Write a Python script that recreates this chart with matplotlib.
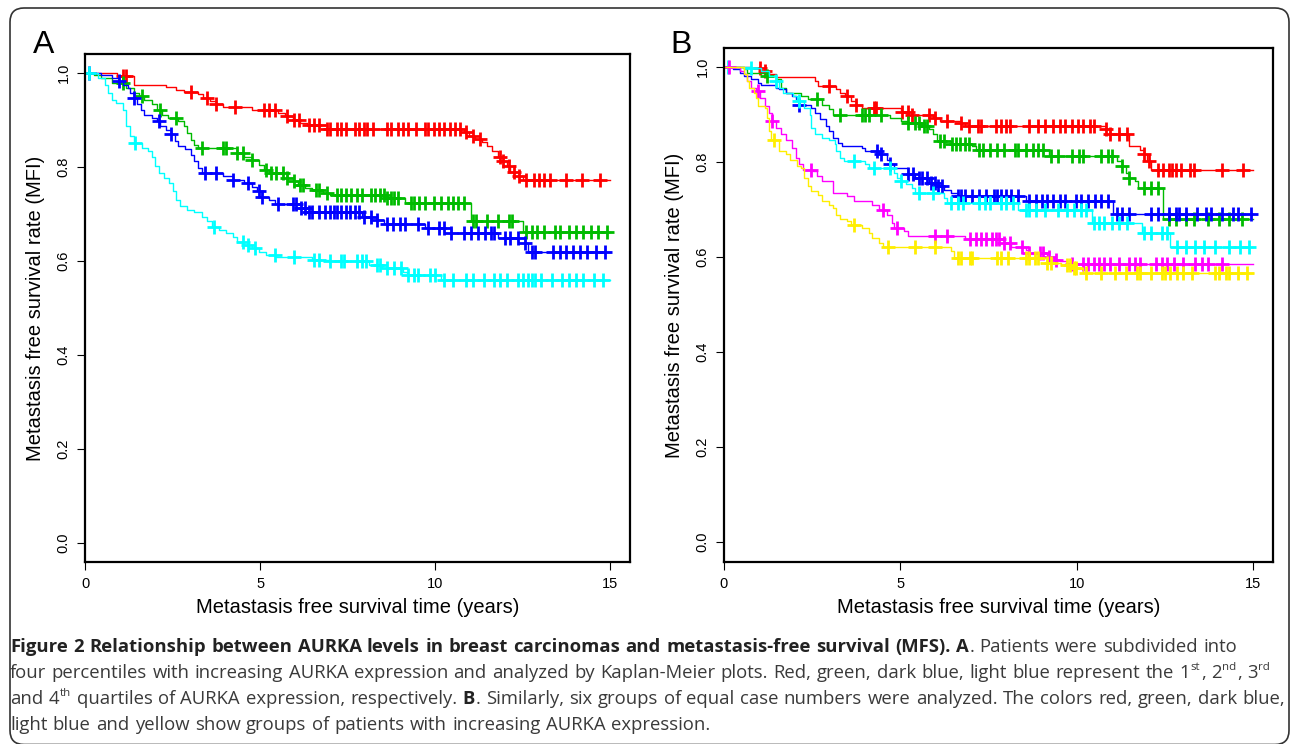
import numpy as np
import matplotlib
matplotlib.use("Agg")
import matplotlib.pyplot as plt
from matplotlib.patches import FancyBboxPatch

plt.rcParams['font.family'] = ['Liberation Sans', 'DejaVu Sans']

# ---- panel A: quartiles (step times / survival, censor times) ----
a_red_t = [0, 0.9, 1.39, 2.31, 2.61, 2.82, 3.22, 3.38, 3.58, 3.73, 3.94, 4.76, 5.52, 5.72, 5.93,
           6.13, 6.34, 6.9, 10.83, 10.98, 11.13, 11.34, 11.49, 11.64, 11.8, 11.95, 12.05, 12.15, 12.4, 12.5]
a_red_s = [1.0, 0.993, 0.975, 0.970, 0.964, 0.960, 0.954, 0.947, 0.940, 0.933, 0.927, 0.920, 0.915, 0.908, 0.900,
           0.893, 0.888, 0.881, 0.874, 0.866, 0.860, 0.852, 0.844, 0.833, 0.822, 0.812, 0.801, 0.790, 0.781, 0.773]
a_red_c = [1.08, 1.18, 3.02, 3.48, 3.73, 4.28, 5.11, 5.27, 5.42, 5.78, 5.96, 6.10, 6.39, 6.54, 6.69, 6.90,
           7.00, 7.20, 7.31, 7.46, 7.71, 7.82, 7.97, 8.07, 8.22, 8.63, 8.73, 8.94, 9.09, 9.24, 9.45, 9.70,
           9.81, 9.96, 10.11, 10.27, 10.42, 10.57, 10.72, 10.88, 11.08, 11.29, 11.85, 11.95, 12.10, 12.26,
           12.41, 12.61, 12.82, 12.97, 13.12, 13.28, 13.73, 14.19, 14.70]

a_green_t = [0, 0.27, 0.47, 0.78, 1.18, 1.39, 1.54, 1.69, 1.9, 2.05, 2.2, 2.36, 2.66, 2.82, 2.92, 3.02, 3.12,
             3.22, 4.35, 4.55, 4.76, 4.96, 5.11, 5.27, 5.78, 5.93, 6.08, 6.29, 6.49, 6.8, 7.0, 8.58, 9.14,
             11.03, 12.51]
a_green_s = [1.0, 0.996, 0.989, 0.979, 0.968, 0.957, 0.950, 0.943, 0.933, 0.922, 0.911, 0.904, 0.897, 0.886,
             0.872, 0.858, 0.847, 0.840, 0.829, 0.822, 0.815, 0.805, 0.794, 0.787, 0.776, 0.769, 0.762, 0.756,
             0.750, 0.744, 0.741, 0.734, 0.723, 0.685, 0.661]
a_green_c = [1.08, 1.64, 2.15, 2.61, 3.33, 3.94, 4.04, 4.35, 4.50, 4.76, 5.16, 5.32, 5.47, 5.67, 5.78, 5.98,
             6.13, 6.23, 6.59, 6.69, 6.90, 7.20, 7.31, 7.46, 7.61, 7.77, 7.92, 8.17, 8.28, 8.43, 8.53, 8.63,
             8.73, 8.84, 8.94, 9.30, 9.40, 9.55, 9.70, 9.96, 10.16, 10.37, 10.52, 10.67, 10.83, 11.08, 11.18,
             11.49, 11.80, 12.10, 12.20, 12.61, 12.77, 12.92, 13.12, 13.43, 13.58, 13.84, 14.04, 14.24,
             14.45, 14.65, 14.91]

a_blue_t = [0, 0.47, 0.78, 0.98, 1.08, 1.23, 1.29, 1.39, 1.49, 1.59, 1.69, 1.9, 2.05, 2.15, 2.31, 2.46, 2.56,
            2.66, 2.87, 3.02, 3.12, 3.22, 3.33, 3.94, 4.24, 4.55, 4.76, 4.91, 5.06, 5.27, 5.42, 6.18, 6.39,
            7.92, 8.33, 8.53, 9.70, 10.47, 11.8, 12.56, 12.66]
a_blue_s = [1.0, 0.996, 0.989, 0.982, 0.975, 0.968, 0.957, 0.947, 0.933, 0.922, 0.911, 0.904, 0.897, 0.886,
            0.879, 0.869, 0.854, 0.844, 0.837, 0.826, 0.812, 0.797, 0.787, 0.780, 0.773, 0.766, 0.758, 0.748,
            0.737, 0.730, 0.721, 0.712, 0.705, 0.694, 0.687, 0.679, 0.670, 0.659, 0.648, 0.639, 0.620]
a_blue_c = [0.11, 0.98, 1.39, 2.10, 2.46, 3.43, 3.73, 4.24, 4.65, 4.96, 5.06, 5.52, 5.93, 6.03, 6.18, 6.29,
            6.39, 6.49, 6.69, 6.85, 7.00, 7.10, 7.20, 7.31, 7.46, 7.56, 7.71, 7.82, 7.97, 8.17, 8.33, 8.63,
            8.79, 8.99, 9.14, 9.50, 9.81, 10.11, 10.27, 10.47, 10.83, 11.03, 11.23, 11.44, 11.59, 11.69,
            12.0, 12.15, 12.36, 12.56, 12.77, 12.87, 13.38, 13.58, 13.73, 13.94, 14.14, 14.35, 14.60, 14.86]

a_cyan_t = [0, 0.37, 0.57, 0.67, 0.78, 0.88, 1.08, 1.18, 1.29, 1.39, 1.64, 1.8, 1.9, 2.0, 2.1, 2.26, 2.41,
            2.51, 2.61, 2.71, 2.92, 3.12, 3.33, 3.48, 3.63, 3.84, 4.04, 4.24, 4.35, 4.55, 4.76, 4.96, 5.16,
            5.47, 6.49, 7.0, 8.12, 8.48, 9.09, 9.19, 10.16]
a_cyan_s = [1.0, 0.989, 0.975, 0.957, 0.943, 0.936, 0.922, 0.886, 0.865, 0.851, 0.840, 0.833, 0.822, 0.801,
            0.787, 0.776, 0.766, 0.748, 0.730, 0.716, 0.709, 0.705, 0.694, 0.684, 0.673, 0.666, 0.659, 0.652,
            0.641, 0.634, 0.627, 0.620, 0.613, 0.609, 0.602, 0.599, 0.592, 0.584, 0.577, 0.570, 0.560]
a_cyan_c = [0.11, 1.44, 3.68, 4.50, 4.65, 4.86, 5.42, 5.98, 6.54, 6.69, 7.00, 7.31, 7.41, 7.77, 7.92, 8.02,
            8.33, 8.43, 8.63, 8.84, 9.04, 9.24, 9.40, 9.50, 9.86, 10.01, 10.27, 10.52, 10.88, 11.08, 11.39,
            11.69, 11.85, 12.05, 12.36, 12.51, 12.66, 12.77, 12.87, 13.02, 13.33, 13.63, 13.84, 14.04,
            14.24, 14.55, 14.81]

# ---- panel B: six groups ----
b_red_t = [0, 0.76, 1.06, 1.27, 1.47, 2.58, 2.68, 3.19, 3.29, 3.44, 3.59, 3.75, 3.9, 5.01, 5.32, 5.92, 6.13,
           6.73, 6.84, 10.84, 10.94, 11.49, 11.8, 11.9, 12.0, 12.1]
b_red_s = [1.0, 0.997, 0.992, 0.986, 0.978, 0.970, 0.960, 0.953, 0.946, 0.939, 0.928, 0.921, 0.913, 0.906,
           0.900, 0.893, 0.886, 0.883, 0.876, 0.869, 0.858, 0.833, 0.826, 0.816, 0.802, 0.784]
b_red_c = [1.01, 1.16, 2.99, 3.49, 3.75, 4.25, 4.30, 5.06, 5.22, 5.32, 5.82, 5.97, 6.33, 6.73, 6.94, 7.19,
           7.29, 7.70, 7.85, 8.00, 8.10, 8.66, 8.91, 9.11, 9.32, 9.52, 9.67, 9.87, 10.03, 10.18, 10.38,
           10.48, 10.84, 10.94, 11.19, 11.44, 11.90, 12.05, 12.30, 12.46, 12.61, 12.71, 12.81, 12.96,
           13.22, 13.32, 14.13, 14.73]

b_green_t = [0, 0.56, 0.66, 1.16, 1.47, 1.62, 1.77, 2.18, 2.38, 2.78, 2.99, 3.09, 4.71, 5.01, 5.22, 5.62,
             5.82, 5.92, 6.03, 6.43, 7.04, 7.14, 9.22, 11.14, 11.29, 11.39, 11.49, 11.65, 11.75, 12.46]
b_green_s = [1.0, 0.995, 0.988, 0.981, 0.974, 0.956, 0.946, 0.939, 0.932, 0.921, 0.911, 0.900, 0.893, 0.886,
             0.883, 0.876, 0.869, 0.858, 0.844, 0.838, 0.833, 0.826, 0.812, 0.802, 0.791, 0.777, 0.767,
             0.760, 0.746, 0.679]
b_green_c = [1.22, 2.63, 3.29, 3.90, 4.00, 4.10, 4.46, 5.22, 5.42, 5.52, 5.67, 5.77, 6.13, 6.23, 6.48, 6.58,
             6.68, 6.84, 6.94, 7.24, 7.34, 7.54, 7.75, 7.95, 8.25, 8.35, 8.56, 8.76, 8.91, 9.06, 9.27, 9.47,
             9.87, 10.08, 10.18, 10.68, 10.89, 10.99, 11.29, 11.49, 11.90, 12.10, 12.30, 12.61, 12.81,
             13.11, 13.32, 13.72, 14.03, 14.33, 14.68]

b_blue_t = [0, 0.25, 0.46, 0.56, 0.76, 0.96, 1.06, 1.47, 1.57, 1.77, 1.92, 2.03, 2.13, 2.48, 2.58, 2.73,
            2.89, 2.99, 3.09, 3.24, 3.34, 3.9, 4.0, 4.41, 4.61, 4.71, 4.81, 5.22, 5.42, 5.82, 6.03, 6.23,
            6.43, 6.63, 8.56, 11.04]
b_blue_s = [1.0, 0.995, 0.988, 0.981, 0.974, 0.967, 0.962, 0.956, 0.953, 0.946, 0.939, 0.932, 0.921, 0.914,
            0.904, 0.890, 0.876, 0.865, 0.851, 0.840, 0.833, 0.830, 0.823, 0.816, 0.805, 0.795, 0.788, 0.774,
            0.767, 0.756, 0.749, 0.742, 0.735, 0.728, 0.717, 0.691]
b_blue_c = [2.13, 4.35, 4.46, 4.71, 5.22, 5.37, 5.52, 5.62, 5.77, 5.87, 5.97, 6.08, 6.18, 6.63, 6.73, 6.84,
            7.04, 7.24, 7.44, 7.65, 7.75, 7.85, 8.00, 8.15, 8.35, 8.66, 8.86, 9.01, 9.16, 9.32, 9.52, 9.67,
            9.97, 10.13, 10.33, 10.53, 10.68, 10.89, 11.14, 11.29, 11.49, 12.10, 12.30, 12.61, 12.81,
            12.91, 13.11, 13.42, 13.67, 13.82, 14.13, 14.43, 14.58, 14.94]

b_cyan_t = [0, 0.76, 1.06, 1.27, 1.47, 1.57, 1.67, 1.97, 2.08, 2.28, 2.43, 2.48, 2.58, 2.78, 2.99, 3.14,
            3.19, 3.29, 3.39, 4.0, 4.1, 4.81, 4.91, 5.01, 5.16, 5.32, 5.42, 6.23, 6.33, 8.35, 10.45, 11.85,
            12.66]
b_cyan_s = [1.0, 0.997, 0.992, 0.981, 0.970, 0.956, 0.946, 0.939, 0.928, 0.914, 0.900, 0.872, 0.858, 0.851,
            0.847, 0.837, 0.823, 0.809, 0.802, 0.795, 0.788, 0.777, 0.767, 0.760, 0.753, 0.746, 0.735, 0.724,
            0.714, 0.700, 0.672, 0.651, 0.622]
b_cyan_c = [0.10, 0.76, 1.47, 2.13, 3.70, 4.25, 4.71, 5.01, 5.52, 5.92, 6.43, 6.63, 6.78, 7.24, 7.39, 7.54,
            7.85, 8.00, 8.20, 8.56, 8.66, 8.86, 9.11, 9.47, 9.72, 9.92, 10.13, 10.28, 10.48, 10.63, 10.78,
            10.99, 11.19, 11.44, 11.90, 12.10, 12.41, 12.56, 12.86, 13.11, 13.37, 13.62, 13.92, 14.33,
            14.63, 14.89]

b_magenta_t = [0, 0.46, 0.56, 0.66, 0.76, 0.91, 1.01, 1.16, 1.27, 1.37, 1.47, 1.62, 1.77, 1.92, 2.03, 2.13,
               2.23, 2.53, 2.63, 2.78, 3.09, 3.49, 3.7, 4.2, 4.41, 4.61, 4.76, 4.81, 5.11, 5.22, 6.84, 7.95,
               8.15, 8.56, 8.66, 9.16, 9.37, 9.52, 9.72]
b_magenta_s = [1.0, 0.992, 0.985, 0.970, 0.956, 0.949, 0.935, 0.918, 0.904, 0.886, 0.872, 0.858, 0.847,
               0.830, 0.809, 0.795, 0.784, 0.781, 0.770, 0.760, 0.735, 0.728, 0.717, 0.710, 0.700, 0.689,
               0.672, 0.661, 0.654, 0.644, 0.637, 0.630, 0.622, 0.615, 0.608, 0.601, 0.594, 0.591, 0.585]
b_magenta_c = [0.15, 0.96, 1.37, 2.48, 4.51, 4.91, 5.97, 6.33, 6.99, 7.14, 7.29, 7.44, 7.59, 7.70, 7.80,
               7.95, 8.10, 8.46, 8.66, 8.96, 9.06, 9.22, 9.42, 9.87, 10.18, 10.33, 10.48, 10.63, 10.78,
               10.94, 11.19, 11.49, 11.65, 11.80, 12.25, 12.41, 12.56, 12.76, 13.01, 13.37, 13.57, 13.72,
               14.13]

b_yellow_t = [0, 0.56, 0.66, 0.71, 0.86, 0.91, 0.96, 1.16, 1.22, 1.27, 1.32, 1.57, 1.77, 1.87, 2.08, 2.18,
              2.28, 2.38, 2.48, 2.68, 2.78, 2.99, 3.09, 3.19, 3.29, 3.49, 3.59, 3.9, 4.1, 4.2, 4.41, 4.51,
              6.43, 6.53, 9.16, 9.57, 9.87, 10.18]
b_yellow_s = [1.0, 0.985, 0.970, 0.956, 0.946, 0.935, 0.918, 0.914, 0.893, 0.865, 0.847, 0.823, 0.816,
              0.805, 0.791, 0.788, 0.767, 0.749, 0.738, 0.731, 0.717, 0.710, 0.703, 0.689, 0.681, 0.675,
              0.668, 0.661, 0.651, 0.640, 0.630, 0.622, 0.612, 0.598, 0.587, 0.584, 0.577, 0.566]
b_yellow_c = [1.42, 3.70, 4.66, 5.42, 5.97, 6.63, 6.73, 6.99, 7.04, 7.75, 7.85, 8.05, 8.56, 8.66, 8.81,
              8.91, 9.16, 9.27, 9.72, 9.82, 9.92, 9.97, 10.28, 10.68, 11.09, 11.39, 11.70, 11.80, 12.10,
              12.41, 12.51, 12.66, 12.86, 13.01, 13.27, 13.92, 14.03, 14.23, 14.33, 14.58, 14.84]

follow_up_end = 15.0

x_ticks = [0, 5, 10, 15]
y_ticks = [0.0, 0.2, 0.4, 0.6, 0.8, 1.0]
x_title = "Metastasis free survival time (years)"
y_title = "Metastasis free survival rate (MFI)"

caption_lines = [
    [("Figure 2 Relationship between AURKA levels in breast carcinomas and metastasis-free survival (MFS). A", "b"),
     (". Patients were subdivided into", "n")],
    [("four percentiles with increasing AURKA expression and analyzed by Kaplan-Meier plots. Red, green, dark blue, "
      "light blue represent the 1", "n"), ("st", "sup"), (", 2", "n"), ("nd", "sup"), (", 3", "n"), ("rd", "sup")],
    [("and 4", "n"), ("th", "sup"), (" quartiles of AURKA expression, respectively. ", "n"), ("B", "b"),
     (". Similarly, six groups of equal case numbers were analyzed. The colors red, green, dark blue,", "n")],
    [("light blue and yellow show groups of patients with increasing AURKA expression.", "n")],
]

RED, GREEN, BLUE, CYAN, MAGENTA, YELLOW = "#ff0000", "#00bb00", "#0000ff", "#00ffff", "#ff00ff", "#ffee00"


def km(ax, t, s, cens, color):
    t = np.asarray(t, float)
    s = np.asarray(s, float)
    c = np.asarray(cens, float)
    ax.step(np.append(t, follow_up_end), np.append(s, s[-1]), where='post', color=color, lw=1.0)
    cy = s[np.searchsorted(t, c, side='right') - 1]
    ax.plot(c, cy, ls='none', marker='+', ms=10, mew=2.0, color=color)


def style_axes(ax):
    ax.set_xlim(0, 15.57)
    ax.set_xticks(x_ticks)
    ax.set_xticklabels([str(v) for v in x_ticks])
    ax.set_yticks(y_ticks)
    ax.set_yticklabels(["%.1f" % v for v in y_ticks], rotation=90, va='center')
    ax.tick_params(direction='out', length=5.5, width=0.8, labelsize=10.5, pad=5)
    for sp in ax.spines.values():
        sp.set_linewidth(1.6)
    ax.set_xlabel(x_title, fontsize=14.5, labelpad=5)
    ax.set_ylabel(y_title, fontsize=14.5, labelpad=8)


fig = plt.figure(figsize=(12.9, 7.44), dpi=100)

# background frame (pixel coordinates)
bg = fig.add_axes([0, 0, 1, 1], zorder=-1)
bg.set_xlim(0, 1290)
bg.set_ylim(744, 0)
bg.axis('off')
bg.add_patch(FancyBboxPatch((10, 8), 1279, 736.5, boxstyle="round,pad=0,rounding_size=14",
                            fc='white', ec='#333333', lw=1.2))

axA = fig.add_axes([85 / 1290, 182 / 744, 545 / 1290, 508 / 744])
km(axA, a_red_t, a_red_s, a_red_c, RED)
km(axA, a_green_t, a_green_s, a_green_c, GREEN)
km(axA, a_blue_t, a_blue_s, a_blue_c, BLUE)
km(axA, a_cyan_t, a_cyan_s, a_cyan_c, CYAN)
axA.set_ylim(-0.04, 1.04)
style_axes(axA)

axB = fig.add_axes([724 / 1290, 182 / 744, 549 / 1290, 514 / 744])
km(axB, b_red_t, b_red_s, b_red_c, RED)
km(axB, b_green_t, b_green_s, b_green_c, GREEN)
km(axB, b_blue_t, b_blue_s, b_blue_c, BLUE)
km(axB, b_cyan_t, b_cyan_s, b_cyan_c, CYAN)
km(axB, b_magenta_t, b_magenta_s, b_magenta_c, MAGENTA)
km(axB, b_yellow_t, b_yellow_s, b_yellow_c, YELLOW)
axB.set_ylim(-0.042, 1.04)
style_axes(axB)

bg.text(33, 53, "A", fontsize=23, va='baseline', ha='left')
bg.text(670, 53, "B", fontsize=23, va='baseline', ha='left')

# caption, set word by word
renderer = fig.canvas.get_renderer()
cap_font = ['Open Sans', 'DejaVu Sans']


def split_words(segs):
    words = [[]]
    for text, style in segs:
        parts = text.split(' ')
        for i, p in enumerate(parts):
            if i > 0:
                words.append([])
            if p:
                words[-1].append((p, style))
    return [w for w in words if w]


def put_line(segs, x0, y0, size, keep=True):
    px = size * 100 / 72.0
    x = x0
    made = []
    for w in split_words(segs):
        for text, style in w:
            fs = size * 0.62 if style == 'sup' else size
            y = y0 - 0.42 * px if style == 'sup' else y0
            t = bg.text(x, y, text, fontsize=fs, family=cap_font, va='baseline', ha='left',
                        fontweight='bold' if style == 'b' else 'normal',
                        color='#222222' if style == 'b' else '#3a3a3a')
            bb = t.get_window_extent(renderer)
            x += bb.width + 0.6
            made.append(t)
        x += 0.26 * px
    if not keep:
        for t in made:
            t.remove()
    return x - 0.26 * px - x0


base = 12.0
w3 = put_line(caption_lines[2], 10, 704, base, keep=False)
cap_size = base * 1268.0 / w3

for i, segs in enumerate(caption_lines):
    put_line(segs, 10, 652 + 26 * i, cap_size)

fig.savefig("out.png", dpi=100)
